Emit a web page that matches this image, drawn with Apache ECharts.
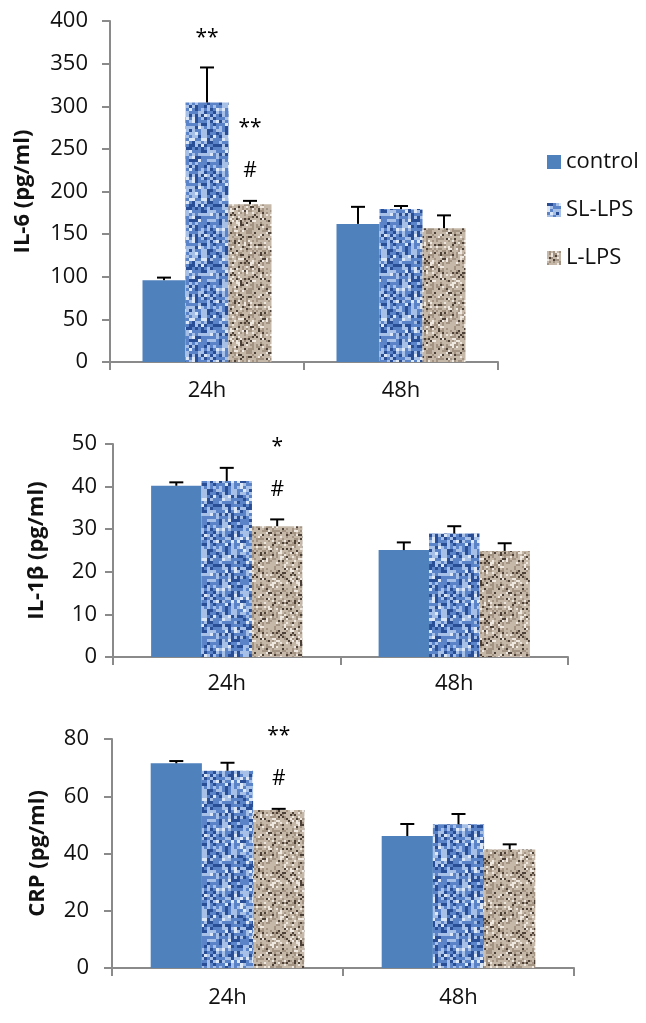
<!DOCTYPE html>
<html><head><meta charset="utf-8">
<script src="https://cdn.jsdelivr.net/npm/echarts@6/dist/echarts.min.js"></script>
<style>html,body{margin:0;padding:0;background:#fff}#c{width:646px;height:1023px}</style>
</head><body><div id="c"></div>
<script>
// ---- data ----
const categories = ['24h', '48h'];
const seriesNames = ['control', 'SL-LPS', 'L-LPS'];
const yTitles = ['IL-6 (pg/ml)', 'IL-1β (pg/ml)', 'CRP (pg/ml)'];

const il6Control = [96, 162];
const il6ControlSD = [3, 20];
const il6SL = [304.5, 179.5];
const il6SLSD = [41, 3.5];
const il6L = [185, 157];
const il6LSD = [4, 15];
const il6Ticks = [0, 400, 50];
const il6SigSL = ['**', ''];
const il6SigL = ['**\n#', ''];

const il1bControl = [40.2, 25.1];
const il1bControlSD = [0.8, 1.8];
const il1bSL = [41.3, 29.0];
const il1bSLSD = [3.1, 1.7];
const il1bL = [30.7, 24.9];
const il1bLSD = [1.6, 1.8];
const il1bTicks = [0, 50, 10];
const il1bSigSL = ['', ''];
const il1bSigL = ['*\n#', ''];

const crpControl = [71.5, 46.1];
const crpControlSD = [0.8, 4.2];
const crpSL = [68.9, 50.2];
const crpSLSD = [2.8, 3.6];
const crpL = [55.2, 41.4];
const crpLSD = [0.4, 1.8];
const crpTicks = [0, 80, 20];
const crpSigSL = ['', ''];
const crpSigL = ['**\n#', ''];

// ---- textures ----
function makeTexture(cw, ch, palette, weights, seed) {
  const cv = document.createElement('canvas');
  cv.width = 60; cv.height = 60;
  const ctx = cv.getContext('2d');
  let s = seed >>> 0;
  function rnd() { s = (s * 1664525 + 1013904223) >>> 0; return s / 4294967296; }
  for (let y = 0; y < 60; y += ch) {
    for (let x = 0; x < 60; x += cw) {
      let r = rnd(), acc = 0, k = 0;
      for (; k < weights.length - 1; k++) { acc += weights[k]; if (r < acc) break; }
      ctx.fillStyle = palette[k];
      ctx.fillRect(x, y, cw, ch);
    }
  }
  return cv;
}
const slTex = makeTexture(3, 3, ['#2a4e96', '#5a83c8', '#a6c0e8', '#dce7f7'], [0.27, 0.35, 0.28, 0.10], 12345);
const lTex = makeTexture(2, 2, ['#c6b8a8', '#a39382', '#4d4037', '#eee8e0'], [0.52, 0.26, 0.11, 0.11], 98765);

const colors = ['#4f81bd', { image: slTex, repeat: 'repeat' }, { image: lTex, repeat: 'repeat' }];
const FONT = 'Open Sans';
const GAP = 0.335;

const panels = [
  { title: yTitles[0], ticks: il6Ticks, means: [il6Control, il6SL, il6L], sds: [il6ControlSD, il6SLSD, il6LSD], sig: [null, il6SigSL, il6SigL],
    grid: { left: 110, top: 21, width: 388, height: 341 }, nameGap: 76, labelMargin: 22, xMargin: 18 },
  { title: yTitles[1], ticks: il1bTicks, means: [il1bControl, il1bSL, il1bL], sds: [il1bControlSD, il1bSLSD, il1bLSD], sig: [null, il1bSigSL, il1bSigL],
    grid: { left: 113, top: 444, width: 455, height: 213 }, nameGap: 65, labelMargin: 16, xMargin: 16 },
  { title: yTitles[2], ticks: crpTicks, means: [crpControl, crpSL, crpL], sds: [crpControlSD, crpSLSD, crpLSD], sig: [null, crpSigSL, crpSigL],
    grid: { left: 112, top: 739, width: 462, height: 229 }, nameGap: 63, labelMargin: 23, xMargin: 19 }
];

function errRender(sIdx) {
  return function (params, api) {
    const c = api.value(0);
    const base = api.coord([c, api.value(1)]);
    const top = api.coord([c, api.value(2)]);
    const band = api.size([1, 0])[0];
    const bw = band * (1 - GAP) / 3;
    const x = base[0] + (sIdx - 1) * bw;
    return { type: 'group', children: [
      { type: 'line', shape: { x1: x, y1: base[1], x2: x, y2: top[1] }, style: { stroke: '#000', lineWidth: 2 } },
      { type: 'line', shape: { x1: x - 7, y1: top[1], x2: x + 7, y2: top[1] }, style: { stroke: '#000', lineWidth: 2 } }
    ] };
  };
}
function sigRender(sIdx, texts) {
  return function (params, api) {
    const t = texts[params.dataIndex];
    if (!t) return null;
    const c = api.value(0);
    const top = api.coord([c, api.value(1)]);
    const band = api.size([1, 0])[0];
    const bw = band * (1 - GAP) / 3;
    const x = top[0] + (sIdx - 1) * bw;
    return { type: 'text', x: x, y: top[1] - 8, style: { text: t, fill: '#000', font: '21px "' + FONT + '"', lineHeight: 43, align: 'center', verticalAlign: 'bottom' } };
  };
}

const option = { animation: false, textStyle: { fontFamily: FONT }, grid: [], xAxis: [], yAxis: [], series: [],
  legend: { orient: 'vertical', left: 542, top: 146, itemWidth: 14, itemHeight: 14, itemGap: 26, icon: 'rect',
    data: seriesNames, textStyle: { fontSize: 22, color: '#111', fontFamily: FONT } },
  color: colors };

panels.forEach((p, gi) => {
  option.grid.push(p.grid);
  option.xAxis.push({ type: 'category', gridIndex: gi, data: categories,
    axisLine: { lineStyle: { color: '#8a8a8a', width: 2 } },
    axisTick: { show: true, length: 8, lineStyle: { color: '#8a8a8a', width: 2 } },
    axisLabel: { color: '#111', fontSize: 22, margin: p.xMargin, fontFamily: FONT } });
  option.yAxis.push({ type: 'value', gridIndex: gi, min: p.ticks[0], max: p.ticks[1], interval: p.ticks[2],
    name: p.title, nameLocation: 'middle', nameGap: p.nameGap, nameRotate: 90,
    nameTextStyle: { fontSize: 22, fontWeight: 'bold', color: '#111', fontFamily: FONT },
    axisLine: { show: true, lineStyle: { color: '#8a8a8a', width: 2 } },
    axisTick: { show: true, length: 8, lineStyle: { color: '#8a8a8a', width: 2 } },
    splitLine: { show: false },
    axisLabel: { color: '#111', fontSize: 22, margin: p.labelMargin, fontFamily: FONT } });
  seriesNames.forEach((name, si) => {
    option.series.push({ type: 'bar', name: name, xAxisIndex: gi, yAxisIndex: gi, data: p.means[si],
      barGap: '0%', barCategoryGap: (GAP * 100) + '%', itemStyle: { color: colors[si] }, z: 2 });
  });
  seriesNames.forEach((name, si) => {
    option.series.push({ type: 'custom', xAxisIndex: gi, yAxisIndex: gi, z: 3,
      data: p.means[si].map((m, ci) => [ci, m, m + p.sds[si][ci]]),
      renderItem: errRender(si), encode: { x: 0, y: [1, 2] }, silent: true });
    if (p.sig[si]) {
      option.series.push({ type: 'custom', xAxisIndex: gi, yAxisIndex: gi, z: 4,
        data: p.means[si].map((m, ci) => [ci, m + p.sds[si][ci]]),
        renderItem: sigRender(si, p.sig[si]), encode: { x: 0, y: 1 }, silent: true });
    }
  });
});

const chart = echarts.init(document.getElementById('c'), null, { renderer: 'canvas' });
chart.setOption(option);
</script>
</body></html>
